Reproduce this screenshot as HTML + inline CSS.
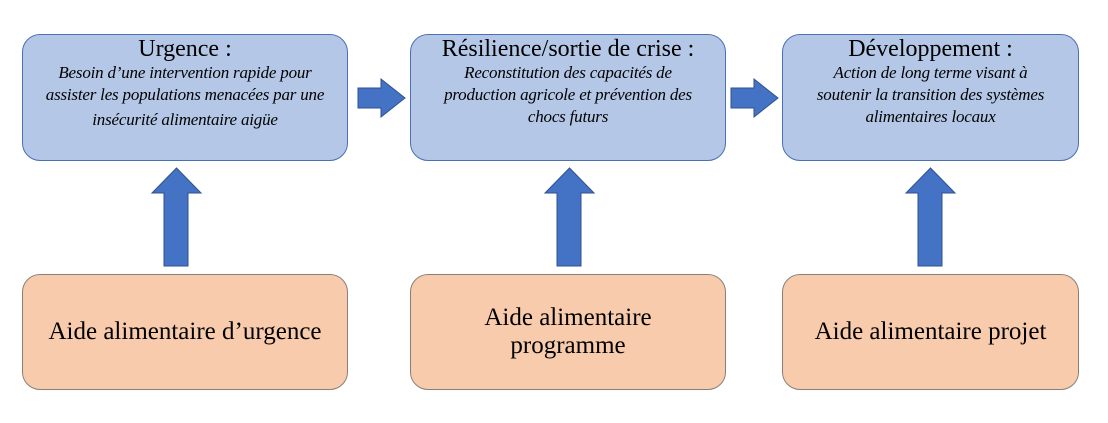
<!DOCTYPE html>
<html><head><meta charset="utf-8"><style>
body{margin:0;width:1108px;height:423px;background:#fff;position:relative;overflow:hidden;font-family:"Liberation Serif",serif;}
.b{position:absolute;box-sizing:border-box;border-radius:18px;text-align:center;color:#000;}
.t{background:#b4c7e7;border:1.5px solid #4a6fb5;top:34px;height:127px;}
.o{background:#f8cbad;border:1.5px solid #8a7f78;top:274px;height:116px;display:flex;align-items:center;justify-content:center;font-size:25px;line-height:28px;}
.h{font-size:24px;line-height:24px;margin-top:2px;}
.s{font-style:italic;font-size:17px;line-height:22px;margin-top:1px;letter-spacing:-0.2px;white-space:nowrap;}
svg{position:absolute;left:0;top:0;}
</style></head><body>
<div class="b t" style="left:22px;width:326px"><div class="h">Urgence :</div><div class="s">Besoin d’une intervention rapide pour<br>assister les populations menacées par une<br><span style="line-height:28px">insécurité alimentaire aigüe</span></div></div>
<div class="b t" style="left:410px;width:316px"><div class="h">Résilience/sortie de crise :</div><div class="s">Reconstitution des capacités de<br>production agricole et prévention des<br>chocs futurs</div></div>
<div class="b t" style="left:782px;width:297px"><div class="h">Développement :</div><div class="s">Action de long terme visant à<br>soutenir la transition des systèmes<br>alimentaires locaux</div></div>
<div class="b o" style="left:22px;width:326px">Aide alimentaire d’urgence</div>
<div class="b o" style="left:410px;width:316px">Aide alimentaire<br>programme</div>
<div class="b o" style="left:782px;width:297px">Aide alimentaire projet</div>
<svg width="1108" height="423">
<g fill="#4472c4" stroke="#2f528f" stroke-width="1">
<polygon points="358,88 381,88 381,79 405,98 381,117 381,108 358,108"/>
<polygon points="731,88 754,88 754,79 778,98 754,117 754,108 731,108"/>
<polygon points="164,266 188,266 188,193 201,193 176.5,168 152,193 164,193"/>
<polygon points="557,266 581,266 581,193 594,193 569.5,168 545,193 557,193"/>
<polygon points="918,266 942,266 942,193 955,193 930.5,168 906,193 918,193"/>
</g></svg>
</body></html>
